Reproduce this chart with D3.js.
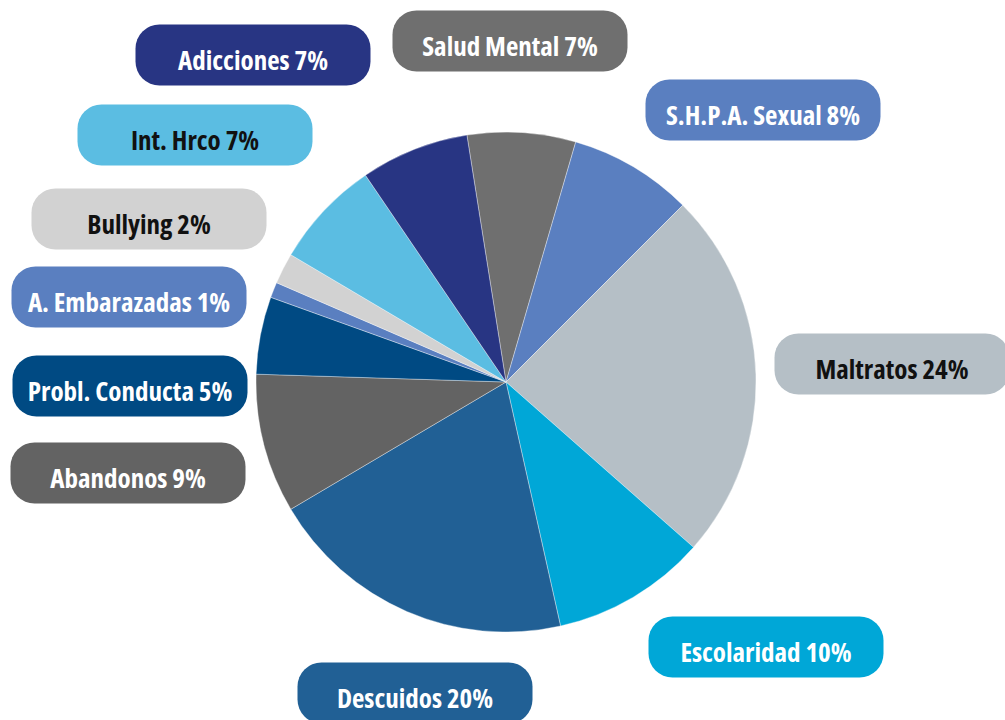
<!DOCTYPE html>
<html>
<head>
<meta charset="utf-8">
<script src="https://cdn.jsdelivr.net/npm/d3@7"></script>
<style>
  body { margin: 0; background: #fff; }
  .lbl { font-family: 'Open Sans', 'Liberation Sans Narrow', sans-serif; font-weight: 700; font-stretch: 75%; }
</style>
</head>
<body>
<div id="chart-area"></div>
<script>
// Data (clockwise, starting with Salud Mental)
let categories = ['Salud Mental', 'S.H.P.A. Sexual', 'Maltratos', 'Escolaridad', 'Descuidos',
  'Abandonos', 'Probl. Conducta', 'A. Embarazadas', 'Bullying', 'Int. Hrco', 'Adicciones'];
let values = [7, 8, 24, 10, 20, 9, 5, 1, 2, 7, 7];

// Styles
let colors = ['#6f6f6f', '#5a7fc0', '#b5bfc6', '#00a7d7', '#216095',
  '#636363', '#004a83', '#5a7fc0', '#d2d2d2', '#5bbde2', '#283583'];
let textColors = ['#fff', '#fff', '#111', '#fff', '#fff', '#fff', '#fff', '#fff', '#111', '#111', '#fff'];

// Label box centers (layout)
let labelPos = [[510, 41], [763, 110], [892, 364], [766, 647], [415, 693],
  [128, 473], [130, 386], [129, 297], [149, 219], [195, 135], [253, 55]];

let width = 1005, height = 720;
let cx = 506, cy = 382, radius = 250;
let boxW = 235, boxH = 61;

let svg = d3.select('#chart-area')
  .append('svg')
  .attr('width', width)
  .attr('height', height);

let data = categories.map((c, i) => ({ name: c, value: values[i], i: i }));

let pie = d3.pie()
  .value(d => d.value)
  .sort(null)
  .startAngle(-9 * Math.PI / 180)
  .endAngle(351 * Math.PI / 180);

let arc = d3.arc().innerRadius(0).outerRadius(radius);

let g = svg.append('g').attr('transform', 'translate(' + cx + ',' + cy + ')');

g.selectAll('path')
  .data(pie(data))
  .enter()
  .append('path')
  .attr('d', arc)
  .attr('fill', d => colors[d.data.i])
  .attr('stroke', 'rgba(255,255,255,0.6)')
  .attr('stroke-width', 0.6);

// Labels
let labels = svg.selectAll('.label')
  .data(data)
  .enter()
  .append('g')
  .attr('class', 'label')
  .attr('transform', d => 'translate(' + labelPos[d.i][0] + ',' + labelPos[d.i][1] + ')');

labels.append('rect')
  .attr('x', -boxW / 2)
  .attr('y', -boxH / 2)
  .attr('width', boxW)
  .attr('height', boxH)
  .attr('rx', 24)
  .attr('fill', d => colors[d.i]);

labels.append('text')
  .attr('class', 'lbl')
  .attr('text-anchor', 'middle')
  .attr('y', 14.5)
  .attr('font-size', 27)
  .attr('fill', d => textColors[d.i])
  .text(d => d.name + ' ' + d.value + '%');
</script>
</body>
</html>
